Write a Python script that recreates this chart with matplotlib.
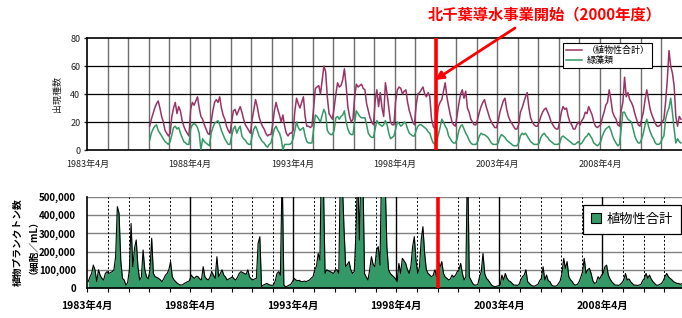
import matplotlib
matplotlib.use('Agg')
import matplotlib.pyplot as plt
from matplotlib.patches import Patch
from matplotlib.lines import Line2D
import numpy as np

# ---------------- data ----------------
# fiscal years start in April; monthly values Apr..Mar
species_start_fy = 1986
total_species = [
    17, 22, 26, 30, 33, 35, 30, 24, 20, 14, 12, 10,   # FY1986
    12, 24, 30, 34, 26, 31, 28, 21, 17, 14, 12, 10,   # FY1987
    29, 34, 32, 35, 38, 30, 24, 22, 18, 15, 12, 11,   # FY1988
    20, 28, 34, 36, 34, 38, 30, 25, 22, 17, 14, 12,   # FY1989
    20, 28, 29, 25, 28, 31, 27, 22, 18, 16, 14, 12,   # FY1990
    22, 29, 36, 31, 24, 20, 17, 15, 12, 10, 11, 11,   # FY1991
    18, 28, 34, 29, 25, 20, 25, 17, 12, 10, 12, 12,   # FY1992
    14, 28, 37, 33, 30, 34, 38, 24, 17, 17, 16, 17,   # FY1993
    30, 44, 45, 46, 40, 50, 60, 56, 38, 26, 24, 22,   # FY1994
    30, 40, 48, 45, 46, 50, 58, 46, 31, 24, 20, 22,   # FY1995
    38, 47, 45, 46, 47, 44, 43, 33, 28, 23, 20, 18,   # FY1996
    35, 43, 31, 41, 30, 24, 48, 40, 30, 20, 18, 18,   # FY1997
    35, 43, 45, 44, 40, 42, 43, 34, 28, 24, 20, 18,   # FY1998
    32, 40, 41, 43, 45, 40, 38, 41, 38, 22, 17, 15,   # FY1999
    20, 31, 34, 36, 42, 48, 38, 31, 25, 20, 18, 17,   # FY2000
    25, 33, 40, 43, 37, 42, 30, 27, 22, 20, 18, 18,   # FY2001
    22, 27, 31, 34, 36, 31, 27, 23, 20, 18, 16, 16,   # FY2002
    20, 27, 31, 35, 37, 29, 24, 21, 19, 17, 15, 15,   # FY2003
    18, 27, 30, 34, 38, 41, 30, 23, 20, 18, 17, 17,   # FY2004
    20, 24, 27, 29, 30, 27, 24, 20, 18, 16, 15, 15,   # FY2005
    20, 27, 31, 29, 30, 24, 20, 18, 15, 15, 18, 20,   # FY2006
    18, 21, 23, 27, 26, 31, 28, 25, 20, 17, 16, 17,   # FY2007
    18, 23, 27, 32, 34, 43, 36, 27, 24, 22, 18, 17,   # FY2008
    28, 34, 52, 38, 41, 36, 34, 31, 26, 22, 18, 17,   # FY2009
    22, 27, 36, 43, 36, 29, 25, 22, 19, 17, 17, 18,   # FY2010
    20, 22, 34, 50, 71, 60, 55, 46, 24, 17, 24, 22,   # FY2011
]
green_species = [
    7, 12, 15, 17, 18, 14, 12, 10, 8, 6, 5, 4,        # FY1986
    6, 11, 16, 17, 15, 16, 12, 9, 6, 5, 4, 4,         # FY1987
    15, 18, 19, 18, 16, 12, 0, 8, 6, 5, 4, 3,         # FY1988
    12, 16, 19, 20, 21, 18, 14, 11, 8, 6, 4, 4,       # FY1989
    10, 15, 17, 12, 15, 17, 10, 8, 7, 5, 4, 4,        # FY1990
    10, 15, 17, 14, 10, 8, 6, 5, 3, 2, 4, 5,          # FY1991
    10, 15, 17, 14, 12, 8, 0, 4, 4, 4, 4, 5,          # FY1992
    8, 14, 20, 16, 14, 15, 16, 10, 6, 5, 5, 5,        # FY1993
    15, 25, 24, 22, 20, 25, 29, 26, 14, 12, 11, 11,   # FY1994
    14, 23, 24, 22, 24, 25, 28, 20, 15, 12, 11, 11,   # FY1995
    20, 28, 26, 24, 23, 23, 23, 18, 12, 10, 9, 9,     # FY1996
    15, 21, 19, 18, 17, 18, 21, 18, 12, 8, 9, 10,     # FY1997
    15, 20, 19, 17, 18, 20, 19, 15, 12, 11, 10, 10,   # FY1998
    14, 17, 18, 18, 17, 16, 15, 13, 12, 8, 5, 4,      # FY1999
    6, 11, 16, 22, 20, 17, 15, 10, 8, 6, 5, 5,        # FY2000
    8, 14, 17, 18, 15, 12, 10, 7, 5, 4, 4, 4,         # FY2001
    6, 10, 12, 11, 11, 10, 9, 7, 5, 4, 4, 4,          # FY2002
    5, 9, 11, 10, 9, 7, 6, 5, 4, 3, 3, 3,             # FY2003
    5, 10, 12, 11, 12, 10, 8, 6, 5, 4, 4, 4,          # FY2004
    5, 9, 11, 12, 10, 9, 7, 6, 5, 4, 4, 4,            # FY2005
    5, 9, 10, 9, 8, 7, 6, 5, 4, 4, 5, 6,              # FY2006
    4, 5, 7, 9, 10, 12, 10, 8, 5, 4, 3, 4,            # FY2007
    6, 10, 13, 15, 16, 17, 14, 10, 7, 5, 3, 4,        # FY2008
    15, 27, 27, 24, 22, 21, 20, 15, 10, 7, 5, 5,      # FY2009
    8, 12, 18, 22, 17, 13, 10, 8, 5, 4, 4, 5,         # FY2010
    8, 10, 22, 27, 30, 37, 27, 15, 5, 8, 6, 5,        # FY2011
]

cells_start_fy = 1983
cell_counts_k = [   # thousand cells / mL
    35, 60, 80, 126, 100, 35, 100, 70, 53, 44, 80, 90,        # FY1983
    80, 85, 90, 100, 172, 447, 410, 150, 53, 44, 16, 30,      # FY1984
    100, 355, 117, 218, 264, 117, 44, 60, 209, 100, 62, 50,   # FY1985
    100, 273, 80, 62, 58, 53, 45, 35, 50, 70, 80, 100,        # FY1986
    145, 62, 45, 35, 25, 20, 16, 18, 25, 30, 35, 40,          # FY1987
    71, 60, 53, 65, 62, 50, 44, 117, 62, 50, 44, 60,          # FY1988
    90, 70, 53, 172, 62, 80, 100, 71, 60, 44, 50, 55,         # FY1989
    62, 50, 44, 60, 80, 90, 85, 80, 75, 100, 62, 50,          # FY1990
    44, 50, 53, 245, 282, 7, 16, 20, 25, 20, 16, 15,          # FY1991
    16, 40, 80, 90, 70, 650, 16, 7, 10, 16, 20, 35,           # FY1992
    53, 44, 40, 42, 35, 35, 38, 35, 40, 44, 55, 62,           # FY1993
    100, 120, 190, 154, 800, 600, 80, 100, 95, 90, 85, 80,    # FY1994
    100, 100, 80, 700, 600, 337, 117, 130, 145, 100, 80, 90,  # FY1995
    300, 650, 264, 700, 650, 80, 60, 44, 100, 172, 130, 117,  # FY1996
    209, 227, 126, 700, 800, 600, 227, 100, 80, 70, 62, 50,   # FY1997
    35, 135, 80, 163, 150, 135, 100, 80, 120, 227, 282, 150,  # FY1998
    80, 117, 264, 337, 190, 100, 80, 71, 62, 70, 100, 62,     # FY1999
    145, 117, 145, 80, 60, 53, 44, 50, 71, 60, 70, 90,        # FY2000
    100, 135, 80, 44, 62, 750, 62, 44, 25, 16, 16, 20,        # FY2001
    62, 90, 190, 80, 53, 44, 30, 16, 10, 7, 10, 12,           # FY2002
    16, 71, 44, 80, 53, 40, 35, 25, 16, 16, 14, 20,           # FY2003
    44, 62, 71, 100, 35, 25, 16, 11, 10, 15, 20, 40,          # FY2004
    53, 117, 44, 71, 40, 35, 16, 11, 10, 12, 25, 40,          # FY2005
    80, 163, 108, 145, 62, 45, 35, 20, 16, 20, 35, 60,        # FY2006
    90, 163, 80, 100, 108, 80, 40, 25, 30, 62, 50, 70,        # FY2007
    80, 117, 126, 71, 50, 35, 25, 16, 16, 14, 20, 30,         # FY2008
    44, 80, 44, 50, 35, 25, 16, 16, 14, 16, 20, 40,           # FY2009
    53, 80, 53, 71, 50, 35, 25, 16, 15, 20, 25, 40,           # FY2010
    62, 80, 62, 53, 45, 35, 30, 25, 25, 20, 25, 30,           # FY2011
]

tick_years = [1983, 1988, 1993, 1998, 2003, 2008]
event_year = 2000
event_label = '北千葉導水事業開始（2000年度）'
legend_top = ['（植物性合計）', '緑藻類']
legend_bottom = '植物性合計'

# ---------------- style ----------------
plt.rcParams['font.family'] = ['Noto Sans CJK JP', 'DejaVu Sans']
MAG = '#993366'
GRN = '#339966'
RED = '#ff0000'

W, H = 682, 318
fig = plt.figure(figsize=(W / 100, H / 100), dpi=100)
fig.patch.set_facecolor('white')


def fx(px):
    return px / W


def fy(py):
    return 1 - py / H


def month_x(start_fy, n):
    return start_fy + 0.25 + (np.arange(n) + 0.5) / 12.0


x0, x1 = 1983.25, 2012.25

# ---------------- top chart ----------------
ax1 = fig.add_axes([fx(87.3), fy(150), fx(681.8 - 87.3), (150 - 38) / H])
ax1.set_xlim(x0, x1)
ax1.set_ylim(0, 80)
for n in range(1, 29):
    ax1.axvline(x0 + n, color='#6e6e6e', lw=1.0, zorder=1)
for v in (20, 40, 60):
    ax1.axhline(v, color='black', lw=0.9, zorder=1)

xs = month_x(species_start_fy, len(total_species))
ax1.plot(xs, total_species, color=MAG, lw=1.1, zorder=3, label=legend_top[0])
ax1.plot(xs, green_species, color=GRN, lw=1.1, zorder=3, label=legend_top[1])
ax1.axvline(event_year + 0.25, color=RED, lw=2.6, zorder=4)

ax1.set_yticks([0, 20, 40, 60, 80])
ax1.set_xticks([y + 0.25 for y in tick_years])
ax1.set_xticklabels([f'{y}年4月' for y in tick_years])
ax1.tick_params(axis='x', length=0, pad=7, labelsize=6.5, colors='#222222')
ax1.tick_params(axis='y', length=2, width=1, pad=3, labelsize=6.5, colors='#222222')
for s in ('top', 'left', 'bottom'):
    ax1.spines[s].set_color('black')
    ax1.spines[s].set_linewidth(1.2)
ax1.spines['right'].set_visible(False)
ax1.set_ylabel('出現種数', fontsize=6.5, labelpad=6, color='#222222')

leg1 = ax1.legend(loc='upper left', bbox_to_anchor=(fx(563), fy(43)),
                  bbox_transform=fig.transFigure, fontsize=6.5, frameon=True,
                  fancybox=False, edgecolor='black', framealpha=1,
                  handlelength=1.8, borderpad=0.3, labelspacing=0.15,
                  handletextpad=0.5, borderaxespad=0)
leg1.get_frame().set_linewidth(0.8)

# ---------------- bottom chart ----------------
ax2 = fig.add_axes([fx(87.3), fy(288), fx(684.7 - 87.3), (288 - 197) / H])
ax2.set_xlim(x0, x1)
ax2.set_ylim(0, 500000)
for v in range(100000, 500001, 100000):
    ax2.axhline(v, color='#808080', lw=1.0, zorder=1)
for n in range(1, 29):
    if n % 5 == 0:
        ax2.axvline(x0 + n, color='black', lw=1.0, zorder=1)
    else:
        ax2.axvline(x0 + n, color='black', lw=0.7, ls=(0, (2, 2)), zorder=1)

xc = month_x(cells_start_fy, len(cell_counts_k))
vals = np.array(cell_counts_k) * 1000.0
ax2.fill_between(xc, 0, vals, color=GRN, zorder=2, lw=0)
ax2.plot(xc, vals, color='black', lw=0.8, zorder=3)
ax2.axvline(event_year + 0.25, color=RED, lw=2.6, zorder=4)

ax2.set_yticks(range(0, 500001, 100000))
ax2.set_yticklabels([f'{v:,}' for v in range(0, 500001, 100000)],
                    fontweight='bold')
ax2.set_xticks([x0 + n for n in range(0, 29)])
ax2.set_xticklabels([f'{1983 + n}年4月' if n % 5 == 0 else '' for n in range(0, 29)],
                    fontweight='bold')
ax2.tick_params(axis='x', length=3, width=0.8, pad=6, labelsize=7.5, direction='out')
ax2.tick_params(axis='y', length=0, pad=8, labelsize=7)
for s in ('left', 'bottom'):
    ax2.spines[s].set_color('black')
    ax2.spines[s].set_linewidth(1.2)
ax2.spines['top'].set_visible(False)
ax2.spines['right'].set_visible(False)
ax2.set_ylabel('植物プランクトン数\n（細胞／mL）', fontsize=7, fontweight='bold',
               labelpad=4, linespacing=1.1)

leg2 = ax2.legend(handles=[Patch(facecolor=GRN, edgecolor='black', lw=0.8,
                                 label=legend_bottom)],
                  loc='upper left', bbox_to_anchor=(fx(583), fy(205)),
                  bbox_transform=fig.transFigure, fontsize=9.5, frameon=True,
                  fancybox=False, edgecolor='black', framealpha=1,
                  handlelength=0.8, handleheight=0.8, borderpad=0.6,
                  handletextpad=0.4, borderaxespad=0)
leg2.get_frame().set_linewidth(0.9)

# ---------------- annotation ----------------
fig.text(fx(545), fy(14), event_label, color=RED, fontsize=11,
         fontweight='bold', ha='center', va='center')
ax1.annotate('', xy=(435, H - 80), xytext=(515, H - 28),
             xycoords='figure pixels', textcoords='figure pixels',
             arrowprops=dict(arrowstyle='-|>', color=RED, lw=2.0,
                             mutation_scale=12, shrinkA=0, shrinkB=0))

fig.savefig('out.png', dpi=100, facecolor='white')
